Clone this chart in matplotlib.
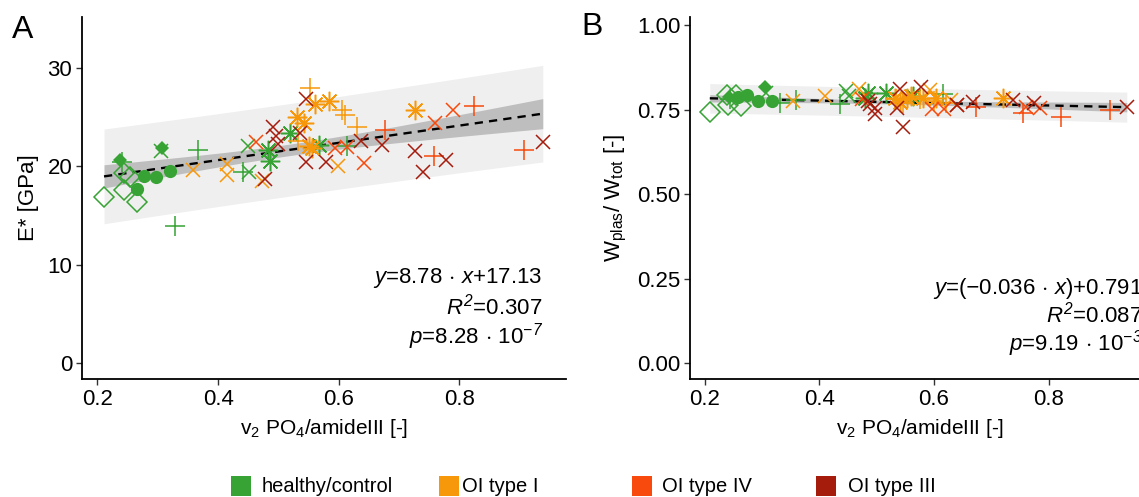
import numpy as np
import matplotlib
matplotlib.use("Agg")
import matplotlib.pyplot as plt
from matplotlib.patches import Rectangle

plt.rcParams['font.family'] = ['Liberation Sans', 'DejaVu Sans']
plt.rcParams['mathtext.fontset'] = 'custom'
plt.rcParams['mathtext.rm'] = 'Liberation Sans:italic'
plt.rcParams['mathtext.it'] = 'Liberation Sans:italic'
plt.rcParams['mathtext.bf'] = 'Liberation Sans:bold'

# ---------------- data ----------------
groups = ['healthy/control', 'OI type I', 'OI type IV', 'OI type III']
colors = ['#36A334', '#F7980B', '#F84A0C', '#A51C0D']

# Panel A : E* [GPa]
a_x = [0.211, 0.244, 0.254, 0.244, 0.266,
       0.238, 0.307,
       0.240, 0.328, 0.366, 0.441, 0.614,
       0.305, 0.449, 0.451,
       0.265, 0.278, 0.297, 0.320,
       0.482, 0.486, 0.519, 0.567,
       0.358, 0.414, 0.414, 0.472, 0.598,
       0.552, 0.606, 0.611, 0.630, 0.533,
       0.561, 0.584, 0.530, 0.543, 0.551, 0.727, 0.556,
       0.463, 0.594, 0.641, 0.614, 0.759, 0.789,
       0.676, 0.824, 0.757, 0.907,
       0.546, 0.491, 0.496, 0.500, 0.546, 0.579, 0.477, 0.636, 0.672,
       0.727, 0.740, 0.777, 0.938, 0.536]
a_y = [16.9, 19.3, 18.9, 17.6, 16.4,
       20.7, 21.9,
       20.4, 13.9, 21.7, 19.4, 22.1,
       21.6, 22.1, 19.4,
       17.7, 19.0, 18.9, 19.5,
       21.7, 20.5, 23.4, 22.2,
       19.6, 20.2, 19.1, 18.5, 20.0,
       28.0, 25.7, 25.2, 24.0, 22.6,
       26.3, 26.7, 25.0, 24.4, 22.1, 25.7, 21.9,
       22.5, 21.9, 20.3, 22.0, 24.4, 25.7,
       23.7, 26.1, 21.1, 21.7,
       26.9, 24.0, 23.1, 22.3, 20.4, 20.4, 18.7, 22.6, 22.2,
       21.6, 19.4, 20.7, 22.5, 23.4]
a_grp = [0] * 23 + [1] * 17 + [2] * 10 + [3] * 14
a_shape = (['od'] * 5 + ['fd'] * 2 + ['+'] * 5 + ['x'] * 3 + ['fo'] * 4 + ['*'] * 4 +
           ['x'] * 5 + ['+'] * 5 + ['*'] * 7 +
           ['x'] * 6 + ['+'] * 4 +
           ['x'] * 14)

# Panel B : W_plas / W_tot [-]
b_x = [0.209, 0.239, 0.255, 0.241, 0.264,
       0.242, 0.305,
       0.245, 0.331, 0.360, 0.436, 0.616,
       0.307, 0.447, 0.452,
       0.258, 0.274, 0.293, 0.317,
       0.485, 0.480, 0.517, 0.564,
       0.354, 0.410, 0.469, 0.593, 0.630,
       0.545, 0.575, 0.600, 0.620, 0.533,
       0.532, 0.541, 0.552, 0.560, 0.580, 0.721, 0.604,
       0.474, 0.596, 0.617, 0.640, 0.761, 0.785,
       0.673, 0.755, 0.822, 0.907,
       0.488, 0.497, 0.497, 0.540, 0.577, 0.535, 0.546, 0.640, 0.668,
       0.738, 0.774, 0.936, 0.485]
b_y = [0.744, 0.793, 0.793, 0.763, 0.760,
       0.786, 0.816,
       0.780, 0.770, 0.778, 0.768, 0.795,
       0.800, 0.805, 0.790,
       0.788, 0.793, 0.776, 0.776,
       0.798, 0.785, 0.798, 0.791,
       0.776, 0.791, 0.811, 0.808, 0.778,
       0.770, 0.780, 0.775, 0.770, 0.780,
       0.783, 0.772, 0.783, 0.790, 0.785, 0.783, 0.783,
       0.781, 0.752, 0.752, 0.765, 0.759, 0.756,
       0.758, 0.739, 0.727, 0.749,
       0.768, 0.754, 0.736, 0.811, 0.818, 0.754, 0.699, 0.765, 0.774,
       0.778, 0.771, 0.759, 0.775]
b_grp = [0] * 23 + [1] * 17 + [2] * 10 + [3] * 13
b_shape = (['od'] * 5 + ['fd'] * 2 + ['+'] * 5 + ['x'] * 3 + ['fo'] * 4 + ['*'] * 4 +
           ['x'] * 5 + ['+'] * 5 + ['*'] * 7 +
           ['x'] * 6 + ['+'] * 4 +
           ['x'] * 13)

a_fit = (8.78, 17.13)
b_fit = (-0.036, 0.791)
a_text = [r'$y$=8.78$\,\cdot\,$$x$+17.13', r'$R^{2}$=0.307', r'$p$=8.28$\,\cdot\,$10$^{-7}$']
b_text = [r'$y$=($-$0.036$\,\cdot\,$$x$)+0.791', r'$R^{2}$=0.087', r'$p$=9.19$\,\cdot\,$10$^{-3}$']

a_yticks = [0, 10, 20, 30]
b_yticks = [0.0, 0.25, 0.50, 0.75, 1.00]
b_yticklabels = ['0.00', '0.25', '0.50', '0.75', '1.00']
xticks = [0.2, 0.4, 0.6, 0.8]

# ---------------- style ----------------
shape_style = {
    'od': dict(marker='D', ms=10, mfc='none', mew=1.1),
    'fd': dict(marker='D', ms=7, mew=0),
    'fo': dict(marker='o', ms=9.5, mew=0),
    '+': dict(marker='+', ms=14, mew=1.1),
    'x': dict(marker='x', ms=10.5, mew=1.1),
    '*': dict(marker=(8, 2, 0), ms=14, mew=1.1),
}

W, H = 1139, 497
fig = plt.figure(figsize=(W / 100, H / 100), dpi=100)

def px_axes(l, r, t, b):
    return fig.add_axes([l / W, 1 - b / H, (r - l) / W, (b - t) / H])

axA = px_axes(82, 566, 17, 379)
axB = px_axes(690, 1150, 17, 379)


def draw_panel(ax, x, y, grp, shp, fit, texts, tx, tys):
    x = np.asarray(x); y = np.asarray(y)
    slope, icpt = fit
    xs = np.linspace(x.min(), x.max(), 200)
    n = len(x)
    resid = y - (slope * x + icpt)
    s = np.sqrt(np.sum(resid ** 2) / (n - 2))
    xbar = x.mean(); sxx = np.sum((x - xbar) ** 2)
    t = 2.0
    yfit = slope * xs + icpt
    se_c = s * np.sqrt(1 / n + (xs - xbar) ** 2 / sxx)
    se_p = s * np.sqrt(1 + 1 / n + (xs - xbar) ** 2 / sxx)
    ax.fill_between(xs, yfit - t * se_p, yfit + t * se_p, color='#EFEFEF', lw=0, zorder=1)
    ax.fill_between(xs, yfit - t * se_c, yfit + t * se_c, color='#BEBEBE', lw=0, zorder=2)
    ax.plot(xs, yfit, color='black', lw=1.7, ls=(0, (3.5, 2.6)), zorder=3)
    for xi, yi, g, sh in zip(x, y, grp, shp):
        ax.plot([xi], [yi], ls='none', color=colors[g], zorder=4, **shape_style[sh])
    for txt, ty in zip(texts, tys):
        ax.text(tx, ty, txt, transform=ax.transAxes, ha='right', va='center',
                fontsize=16, clip_on=False)
    for side in ['top', 'right']:
        ax.spines[side].set_visible(False)
    for side in ['left', 'bottom']:
        ax.spines[side].set_linewidth(1.3)
    ax.tick_params(direction='out', length=4, width=1.0, colors='#333333',
                   labelsize=16, labelcolor='black', pad=3)
    ax.set_xticks(xticks)
    ax.set_xticklabels([f'{v:.1f}' for v in xticks])
    ax.set_xlim(0.1745, 0.9765)
    ax.set_xlabel(r'v$_{\mathregular{2}}$ PO$_{\mathregular{4}}$/amideIII [-]', fontsize=15, labelpad=5)


draw_panel(axA, a_x, a_y, a_grp, a_shape, a_fit, a_text, 0.952, [0.279, 0.199, 0.116])
axA.set_ylim(-1.63, 35.2)
axA.set_yticks(a_yticks)
axA.set_ylabel('E* [GPa]', fontsize=16, labelpad=6)

draw_panel(axB, b_x, b_y, b_grp, b_shape, b_fit, b_text, 0.983, [0.251, 0.177, 0.099])
axB.set_ylim(-0.047, 1.024)
axB.set_yticks(b_yticks)
axB.set_yticklabels(b_yticklabels)
axB.set_ylabel(r'W$_{\mathregular{plas}}$/ W$_{\mathregular{tot}}$ [-]', fontsize=16, labelpad=6)

fig.text(12 / W, 1 - 30 / H, 'A', fontsize=23, va='center', ha='left')
fig.text(581 / W, 1 - 27 / H, 'B', fontsize=23, va='center', ha='left')

# legend
sq_x = [231, 439, 632, 816]
txt_x = [262, 462, 662, 848]
for g in range(4):
    fig.patches.append(Rectangle((sq_x[g] / W, 1 - 496 / H), 20 / W, 20 / H,
                                 transform=fig.transFigure, facecolor=colors[g],
                                 edgecolor='none'))
    fig.text(txt_x[g] / W, 1 - 486 / H, groups[g], fontsize=14.5, va='center', ha='left')

fig.savefig('out.png', dpi=100)
